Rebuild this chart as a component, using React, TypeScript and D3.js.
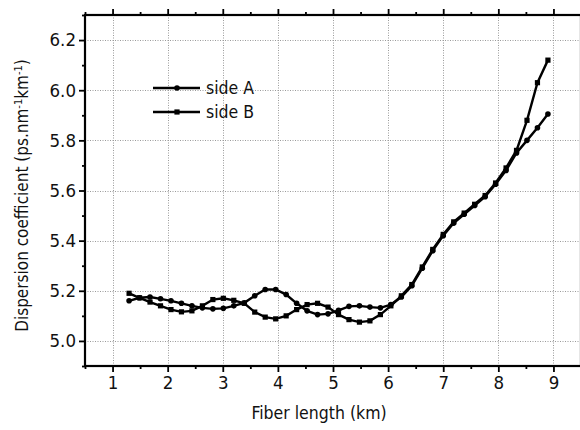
import React, { useEffect, useRef } from 'react'
import * as d3 from 'd3'

// fiber length (km)
const lengths = [1.30, 1.49, 1.68, 1.87, 2.06, 2.25, 2.44, 2.63, 2.82, 3.01, 3.20, 3.39, 3.58, 3.77, 3.96, 4.15, 4.34, 4.53, 4.72, 4.91,
  5.10, 5.29, 5.48, 5.67, 5.86, 6.05, 6.24, 6.43, 6.62, 6.81, 7.00, 7.19, 7.38, 7.57, 7.76, 7.95, 8.14, 8.33, 8.52, 8.71, 8.90]

const sideA = [5.160, 5.172, 5.175, 5.168, 5.160, 5.150, 5.140, 5.132, 5.128, 5.130, 5.140, 5.152, 5.180, 5.205, 5.205, 5.185, 5.150, 5.120, 5.105, 5.108,
  5.122, 5.138, 5.140, 5.135, 5.132, 5.145, 5.175, 5.220, 5.290, 5.360, 5.420, 5.470, 5.505, 5.540, 5.575, 5.625, 5.680, 5.750, 5.800, 5.850, 5.905]

const sideB = [5.190, 5.172, 5.155, 5.140, 5.125, 5.116, 5.120, 5.140, 5.165, 5.170, 5.162, 5.150, 5.115, 5.095, 5.088, 5.100, 5.125, 5.145, 5.150, 5.135,
  5.105, 5.085, 5.075, 5.080, 5.105, 5.140, 5.180, 5.225, 5.295, 5.365, 5.425, 5.475, 5.510, 5.545, 5.580, 5.630, 5.690, 5.760, 5.880, 6.030, 6.120]

const xTicks = [1, 2, 3, 4, 5, 6, 7, 8, 9]
const yTicks = [5.0, 5.2, 5.4, 5.6, 5.8, 6.0, 6.2]
const legendLabels = ['side A', 'side B']

const FONT = '"DejaVu Sans Condensed", "DejaVu Sans", sans-serif'

export default function App () {
  const ref = useRef<SVGSVGElement>(null)

  useEffect(() => {
    const svg = d3.select(ref.current)
    svg.selectAll('*').remove()

    const margin = { top: 15, right: -1, bottom: 64, left: 85 }
    const W = 580
    const H = 430
    const x = d3.scaleLinear().domain([0.5, 9.5]).range([margin.left, W - margin.right])
    const y = d3.scaleLinear().domain([4.9, 6.3]).range([H - margin.bottom, margin.top])
    const [x0, x1] = x.range()
    const [y0, y1] = y.range()

    svg.append('rect').attr('width', W).attr('height', H).attr('fill', '#fff')

    // grid
    const grid = svg.append('g').attr('stroke', '#9a9a9a').attr('stroke-width', 1).attr('stroke-dasharray', '1,1.5')
    grid.selectAll('.gx').data(xTicks).enter().append('line')
      .attr('x1', d => Math.round(x(d)) + 0.5).attr('x2', d => Math.round(x(d)) + 0.5)
      .attr('y1', y1).attr('y2', y0)
    grid.selectAll('.gy').data(yTicks).enter().append('line')
      .attr('y1', d => Math.round(y(d)) + 0.5).attr('y2', d => Math.round(y(d)) + 0.5)
      .attr('x1', x0).attr('x2', x1)

    const minorX = d3.range(0.5, 9.6, 1)
    const minorY = d3.range(4.9, 6.31, 0.2)

    // bottom axis
    const bottom = svg.append('g').attr('transform', `translate(0,${y0})`)
      .call(d3.axisBottom(x).tickValues(xTicks).tickFormat(d3.format('d')).tickSize(6).tickPadding(4))
    bottom.append('g').call(d3.axisBottom(x).tickValues(minorX).tickSize(3).tickFormat(() => ''))
    // top axis
    const top = svg.append('g').attr('transform', `translate(0,${y1})`)
      .call(d3.axisTop(x).tickValues(xTicks).tickSize(6).tickFormat(() => ''))
    top.append('g').call(d3.axisTop(x).tickValues(minorX).tickSize(3).tickFormat(() => ''))
    // left axis
    const left = svg.append('g').attr('transform', `translate(${x0},0)`)
      .call(d3.axisLeft(y).tickValues(yTicks).tickFormat(d3.format('.1f')).tickSize(6).tickPadding(3))
    left.append('g').call(d3.axisLeft(y).tickValues(minorY).tickSize(3).tickFormat(() => ''))
    // right axis
    svg.append('g').attr('transform', `translate(${x1},0)`)
      .call(d3.axisRight(y).tickValues(yTicks).tickSize(6).tickFormat(() => ''))

    svg.selectAll('.domain').remove()
    svg.selectAll('.tick line').attr('stroke', '#000').attr('stroke-width', 1.8)
    svg.selectAll('.tick text').attr('fill', '#111').style('font-family', FONT).style('font-size', '18.5px')
      .style('font-weight', 500)
    svg.append('rect').attr('x', x0).attr('y', y1).attr('width', x1 - x0).attr('height', y0 - y1)
      .attr('fill', 'none').attr('stroke', '#000').attr('stroke-width', 2.2)

    // series
    const series = [sideA, sideB]
    const line = d3.line<number>().x((_, i) => x(lengths[i])).y(d => y(d))
    series.forEach((vals, k) => {
      const g = svg.append('g')
      g.append('path').datum(vals).attr('d', line).attr('fill', 'none')
        .attr('stroke', '#000').attr('stroke-width', 2.4)
      if (k === 0) {
        g.selectAll('circle').data(vals).enter().append('circle')
          .attr('cx', (_, i) => x(lengths[i])).attr('cy', d => y(d)).attr('r', 2.8).attr('fill', '#000')
      } else {
        g.selectAll('rect').data(vals).enter().append('rect')
          .attr('x', (_, i) => x(lengths[i]) - 2.6).attr('y', d => y(d) - 2.6)
          .attr('width', 5.2).attr('height', 5.2).attr('fill', '#000')
      }
    })

    // legend
    const lg = svg.append('g').attr('transform', 'translate(153,88)')
    legendLabels.forEach((lab, k) => {
      const row = lg.append('g').attr('transform', `translate(0,${k * 24})`)
      row.append('line').attr('x1', 0).attr('x2', 47).attr('stroke', '#000').attr('stroke-width', 2.4)
      if (k === 0) row.append('circle').attr('cx', 24).attr('r', 2.8)
      else row.append('rect').attr('x', 21.4).attr('y', -2.6).attr('width', 5.2).attr('height', 5.2)
      row.append('text').attr('x', 53).attr('y', 6).text(lab)
        .style('font-family', FONT).style('font-size', '17.5px').attr('fill', '#111')
    })

    // axis titles
    svg.append('text').attr('x', (x0 + 553) / 2).attr('y', 419).attr('text-anchor', 'middle')
      .style('font-family', FONT).style('font-size', '17.5px').attr('fill', '#111')
      .text('Fiber length (km)')

    const yt = svg.append('text').attr('transform', `translate(28,${(y0 + y1) / 2 + 5}) rotate(-90)`)
      .attr('text-anchor', 'middle').style('font-family', FONT).style('font-size', '17px').attr('fill', '#111')
    yt.append('tspan').text('Dispersion coefficient (ps.nm')
    yt.append('tspan').attr('dy', -6).style('font-size', '11px').text('-1')
    yt.append('tspan').attr('dy', 6).text('km')
    yt.append('tspan').attr('dy', -6).style('font-size', '11px').text('-1')
    yt.append('tspan').attr('dy', 6).text(')')
  }, [])

  return <svg ref={ref} width={580} height={430} style={{ position: 'absolute', left: 0, top: 0 }} />
}
